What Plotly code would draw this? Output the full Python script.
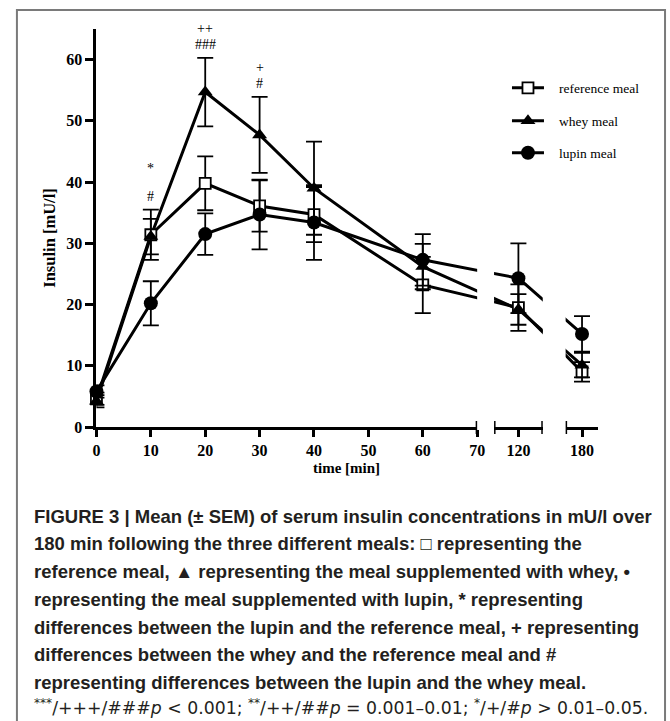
import plotly.graph_objects as go

# ---------------- data ----------------
TIMES = [0, 10, 20, 30, 40, 60, 120, 180]

REF_MEAN = [4.6, 31.4, 39.8, 36.1, 34.7, 23.2, 19.5, 9.0]
REF_SEM = [1.0, 4.1, 4.4, 4.2, 4.5, 4.6, 3.8, 1.6]

WHEY_MEAN = [4.2, 31.1, 54.7, 47.7, 39.0, 26.2, 19.2, 10.1]
WHEY_SEM = [1.0, 2.9, 5.6, 6.2, 7.6, 3.7, 2.5, 2.0]

LUPIN_MEAN = [5.8, 20.2, 31.5, 34.7, 33.4, 27.3, 24.3, 15.2]
LUPIN_SEM = [1.0, 3.6, 3.4, 5.7, 6.1, 4.2, 5.7, 2.9]

SERIES_NAMES = ["reference meal", "whey meal", "lupin meal"]

SIG_TIMES = [10, 20, 30]
SIG_UPPER = ["*", "++", "+"]
SIG_LOWER = ["#", "###", "#"]

X_TICKS = [0, 10, 20, 30, 40, 50, 60, 70, 120, 180]
Y_TICKS = [0, 10, 20, 30, 40, 50, 60]

CAPTION_LINES = [
    "<b>FIGURE 3 | Mean (± SEM) of serum insulin concentrations in mU/l over</b>",
    "<b>180 min following the three different meals: □ representing the</b>",
    "<b>reference meal, ▲ representing the meal supplemented with whey, •</b>",
    "<b>representing the meal supplemented with lupin, * representing</b>",
    "<b>differences between the lupin and the reference meal, + representing</b>",
    "<b>differences between the whey and the reference meal and #</b>",
    "<b>representing differences between the lupin and the whey meal.</b>",
]
FOOTNOTE = ("<sup>***</sup>/+++/###<i>p</i>&nbsp;&lt;&nbsp;0.001; "
            "<sup>**</sup>/++/##<i>p</i>&nbsp;=&nbsp;0.001–0.01; "
            "<sup>*</sup>/+/#<i>p</i>&nbsp;&gt;&nbsp;0.01–0.05.")

# ---------------- layout helpers ----------------
# design coordinates are the reference's 670x721 pixels; the figure is
# rendered slightly larger because the page is shown scaled to the window.
W, H = 670, 721
FIG_W, FIG_H = 678, 730


def fx(px):
    return px / W


def fy(py):
    return 1 - py / H


# broken x-axis: data range of each segment and its pixel extent
SEG_MINUTES = [(0, 70), (110, 130), (170, 190)]
SEG_PIXELS = [(93, 476), (493, 542), (565, 598)]
Y_RANGE = [0, 65]
Y_DOM = [fy(427), fy(29)]


def to_pos(t):
    for (a, b), (p, q) in zip(SEG_MINUTES, SEG_PIXELS):
        if a <= t <= b:
            return p + (t - a) * (q - p) / (b - a)
    return None


XPOS = [to_pos(t) for t in TIMES]

SERIF = "Liberation Serif, Times New Roman, serif"
SANS = "Liberation Sans, Arial, sans-serif"

styles = [
    dict(symbol="square", size=11, color="white", line=dict(color="black", width=1.8)),
    dict(symbol="triangle-up", size=13, color="black", line=dict(color="black", width=0)),
    dict(symbol="circle", size=14, color="black", line=dict(color="black", width=0)),
]
means = [REF_MEAN, WHEY_MEAN, LUPIN_MEAN]
sems = [REF_SEM, WHEY_SEM, LUPIN_SEM]

fig = go.Figure()
axis_ids = ["x", "x2", "x3"]

# lines (clipped to each axis segment)
for k in range(3):
    for ax in axis_ids:
        fig.add_trace(go.Scatter(
            x=XPOS, y=means[k], mode="lines", xaxis=ax, yaxis="y",
            line=dict(color="black", width=3), showlegend=False, hoverinfo="skip"))

# markers + error bars, only the points belonging to each segment
for k in range(3):
    for si, ax in enumerate(axis_ids):
        a, b = SEG_MINUTES[si]
        idx = [i for i, t in enumerate(TIMES) if a <= t <= b]
        fig.add_trace(go.Scatter(
            x=[XPOS[i] for i in idx], y=[means[k][i] for i in idx],
            mode="markers", xaxis=ax, yaxis="y", cliponaxis=False,
            marker=styles[k],
            error_y=dict(type="data", array=[sems[k][i] for i in idx],
                         color="black", thickness=1.8, width=8),
            showlegend=False))

# legend entries
legend_keys = ["legend", "legend2", "legend3"]
legend_y = [88, 121, 153]
for k in range(3):
    fig.add_trace(go.Scatter(
        x=[None], y=[None], mode="lines+markers",
        name="&nbsp;&nbsp;&nbsp;" + SERIES_NAMES[k],
        line=dict(color="black", width=3), marker=styles[k],
        legend=legend_keys[k], showlegend=True))

layout = dict(
    width=FIG_W, height=FIG_H, margin=dict(l=0, r=0, t=0, b=0),
    paper_bgcolor="white", plot_bgcolor="white",
    showlegend=True,
    yaxis=dict(range=Y_RANGE, domain=Y_DOM, anchor="x", showline=True,
               linewidth=3, linecolor="black", ticks="outside", ticklen=8,
               tickwidth=3, tickcolor="black", tickvals=Y_TICKS,
               tickfont=dict(family=SERIF, size=16, color="black", weight="bold"),
               showgrid=False, zeroline=False),
)

for si, ax in enumerate(axis_ids):
    p, q = SEG_PIXELS[si]
    a, b = SEG_MINUTES[si]
    ticks = [t for t in X_TICKS if a <= t <= b]
    key = "xaxis" if si == 0 else f"xaxis{si + 1}"
    layout[key] = dict(
        range=[p, q], domain=[fx(p), fx(q)], anchor="y", showline=True,
        linewidth=3, linecolor="black", ticks="outside", ticklen=7, tickwidth=3,
        tickcolor="black", tickvals=[to_pos(t) for t in ticks],
        ticktext=[str(t) for t in ticks],
        tickfont=dict(family=SERIF, size=16, color="black", weight="bold"),
        showgrid=False, zeroline=False)

for k, key in enumerate(legend_keys):
    layout[key] = dict(
        x=fx(506), y=fy(legend_y[k]), xanchor="left", yanchor="middle",
        bgcolor="rgba(0,0,0,0)", borderwidth=0, itemwidth=32,
        font=dict(family=SERIF, size=13.5, color="black"))

fig.update_layout(**layout)

# axis break caps
caps = [(0, 1), (1, 0), (1, 1), (2, 0)]
shapes = []
for si, end in caps:
    p, q = SEG_PIXELS[si]
    xr = "x" if si == 0 else f"x{si + 1}"
    xv = q if end == 1 else p
    shapes.append(dict(type="line", xref=xr, yref="paper", x0=xv, x1=xv,
                       y0=Y_DOM[0] - 7 / H, y1=Y_DOM[0] + 6 / H,
                       line=dict(color="black", width=3)))
# figure frame
shapes.append(dict(type="rect", xref="paper", yref="paper", x0=fx(13), x1=fx(665),
                   y0=fy(760), y1=fy(10), line=dict(color="#7a7a7a", width=2),
                   layer="below"))
fig.update_layout(shapes=shapes)

annotations = []
# significance marks above the highest error bar at each time
for t, up, low in zip(SIG_TIMES, SIG_UPPER, SIG_LOWER):
    i = TIMES.index(t)
    top = max(means[k][i] + sems[k][i] for k in range(3))
    up_shift = 41 if up == "*" else 29   # the asterisk row sits higher
    annotations.append(dict(x=to_pos(t), y=top, xref="x", yref="y", text=low,
                            showarrow=False, yshift=13, xanchor="center",
                            yanchor="middle",
                            font=dict(family=SERIF, size=14, color="black")))
    annotations.append(dict(x=to_pos(t), y=top, xref="x", yref="y", text=up,
                            showarrow=False, yshift=up_shift, xanchor="center",
                            yanchor="middle",
                            font=dict(family=SERIF, size=14, color="black")))

# axis titles
annotations.append(dict(x=fx(345), y=fy(468), xref="paper", yref="paper",
                        text="<b>time [min]</b>", showarrow=False,
                        xanchor="center", yanchor="middle",
                        font=dict(family=SERIF, size=15, color="black")))
annotations.append(dict(x=fx(45), y=fy(238), xref="paper", yref="paper",
                        text="<b>Insulin [mU/l]</b>", showarrow=False, textangle=-90,
                        xanchor="center", yanchor="middle",
                        font=dict(family=SERIF, size=16.5, color="black")))

# caption
caption_y = [516, 543, 571, 599, 627, 654, 682]
for line, py in zip(CAPTION_LINES, caption_y):
    annotations.append(dict(x=fx(28), y=fy(py), xref="paper", yref="paper",
                            text=line, showarrow=False, xanchor="left",
                            yanchor="middle", align="left",
                            font=dict(family=SANS, size=18.5, color="#231f20")))
annotations.append(dict(x=fx(28), y=fy(707), xref="paper", yref="paper",
                        text=FOOTNOTE, showarrow=False, xanchor="left",
                        yanchor="middle", align="left",
                        font=dict(family="DejaVu Sans, sans-serif", size=17.3,
                                  color="#231f20")))

fig.update_layout(annotations=annotations)

fig.write_html(
    "out.html",
    config={"displayModeBar": False},
    post_script="document.body.style.margin='0';document.body.style.overflow='hidden';",
)
